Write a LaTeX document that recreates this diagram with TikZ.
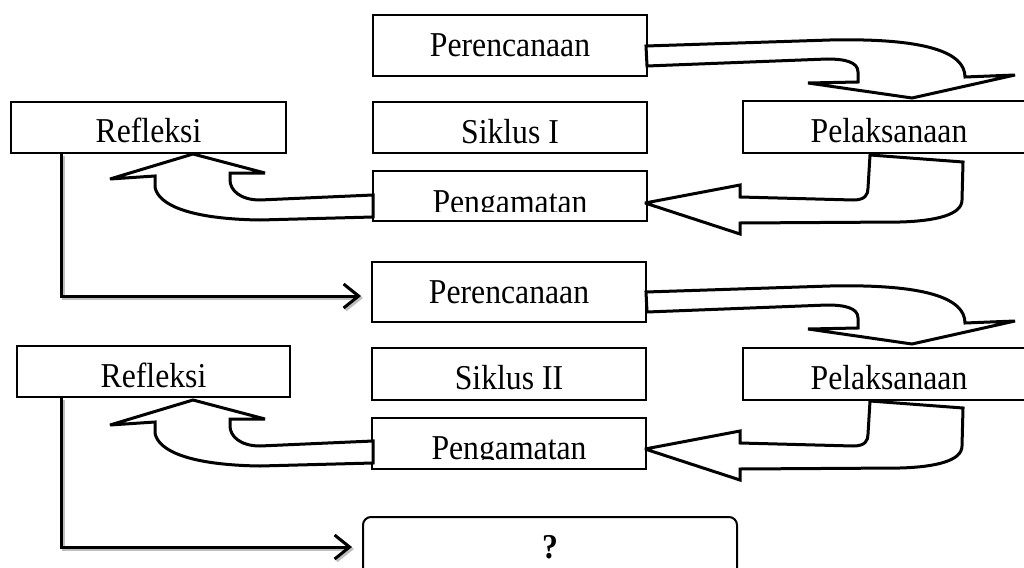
\documentclass[tikz,border=0pt]{standalone}
\usepackage{fontspec}
\usepackage{graphicx}
\setmainfont{Liberation Serif}
\usetikzlibrary{arrows.meta}
\newcommand{\tall}[1]{\scalebox{1}[1.1]{#1}}
\begin{document}
\begin{tikzpicture}[x=1pt,y=-1pt,
  box/.style={draw, line width=2pt, fill=white, rectangle, inner sep=0pt},
  qbox/.style={draw, line width=2pt, fill=white, rectangle, rounded corners=8pt, inner sep=0pt},
  lbl/.style={font=\fontsize{31.7}{36}\selectfont, inner sep=0pt, anchor=base},
  barrow/.style={draw, line width=3pt, fill=white, line join=miter, miter limit=4},
  tipc/.tip={Straight Barb[length=15pt,width=24pt]},
  conn/.style={line width=3pt, -tipc, shorten >=10pt,
    preaction={draw=gray!50, line width=3pt, -tipc, shorten >=10pt, transform canvas={shift={(2pt,-2pt)}}}}
]
\useasboundingbox (0,0) rectangle (1024,567);
\clip (0,0) rectangle (1024,567);
\fill[white] (0,0) rectangle (1024,567);

% ---------- Siklus I ----------
\node[box, minimum width=274pt, minimum height=61pt] (per1) at (510,45.5) {};
\node[box, minimum width=274pt, minimum height=51pt] (sik1) at (510,127.5) {};
\node[box, minimum width=274pt, minimum height=50pt] (pen1) at (510,196) {};
\node[box, minimum width=292pt, minimum height=52pt] (pel1) at (889,127) {};
\node[box, minimum width=275pt, minimum height=51pt] (ref1) at (148.5,127.5) {};

% ---------- Siklus II ----------
\node[box, minimum width=274pt, minimum height=60pt] (per2) at (509,292) {};
\node[box, minimum width=274pt, minimum height=52pt] (sik2) at (509,374) {};
\node[box, minimum width=274pt, minimum height=51pt] (pen2) at (509,443.5) {};
\node[box, minimum width=292pt, minimum height=52pt] (pel2) at (889,374) {};
\node[box, minimum width=273pt, minimum height=51pt] (ref2) at (153.5,371.5) {};

\node[qbox, minimum width=374pt, minimum height=60pt] (q) at (550,547) {};

% ---------- block arrows, cycle I ----------
\draw[barrow] (646,46) -- (830,40) .. controls (925,38) and (965,52) .. (965,77)
  -- (1015,75) -- (912,98) -- (808,83) -- (858,82) -- (858,72)
  .. controls (858,62) and (845,59) .. (827,59) -- (647,66) -- cycle;
\draw[barrow] (870,155) -- (963,162) -- (962,200) .. controls (962,215) and (935,221) .. (900,222)
  -- (740,223) -- (740,234) -- (645,203) -- (740,185) -- (740,197) -- (853,200)
  .. controls (865,200) and (868,195) .. (868,188) -- cycle;
\draw[barrow] (373,195) -- (260,200) .. controls (240,200) and (230,190) .. (230,180)
  -- (230,173) -- (265,173) -- (193,154) -- (110,179) -- (155,176) -- (155,187)
  .. controls (158,205) and (190,219) .. (260,220) -- (373,217) -- cycle;

% ---------- block arrows, cycle II ----------
\begin{scope}[shift={(0,246)}]
\draw[barrow] (646,46) -- (830,40) .. controls (925,38) and (965,52) .. (965,77)
  -- (1015,75) -- (912,98) -- (808,83) -- (858,82) -- (858,72)
  .. controls (858,62) and (845,59) .. (827,59) -- (647,66) -- cycle;
\draw[barrow] (870,155) -- (963,162) -- (962,200) .. controls (962,215) and (935,221) .. (900,222)
  -- (740,223) -- (740,234) -- (645,203) -- (740,185) -- (740,197) -- (853,200)
  .. controls (865,200) and (868,195) .. (868,188) -- cycle;
\draw[barrow] (373,195) -- (260,200) .. controls (240,200) and (230,190) .. (230,180)
  -- (230,173) -- (265,173) -- (193,154) -- (110,179) -- (155,176) -- (155,187)
  .. controls (158,205) and (190,219) .. (260,220) -- (373,217) -- cycle;
\end{scope}

% ---------- connectors ----------
\draw[conn] ([xshift=51pt]ref1.south west) |- ([yshift=-4pt]per2.west);
\draw[conn] ([xshift=45pt]ref2.south west) |- (q.west);

% ---------- labels ----------
\node[lbl] (tper1) at (510,57) {\tall{Perencanaan}};
\node[lbl] (tref1) at (148.5,142) {\tall{Refleksi}};
\begin{scope}
\clip (sik1.north west) rectangle ([yshift=11pt]sik1.south east);
\node[lbl] (tsik1) at (510,143) {\tall{Siklus I}};
\end{scope}
\begin{scope}
\clip (pen1.north west) rectangle ([yshift=11pt]pen1.south east);
\node[lbl] (tpen1) at (510,213) {\tall{Pengamatan}};
\end{scope}
\begin{scope}
\clip (pel1.north west) rectangle ([yshift=11pt]pel1.south east);
\node[lbl] (tpel1) at (889,142) {\tall{Pelaksanaan}};
\end{scope}

\node[lbl] (tper2) at (509,303) {\tall{Perencanaan}};
\node[lbl] (tref2) at (153.5,387) {\tall{Refleksi}};
\begin{scope}
\clip (sik2.north west) rectangle ([yshift=11pt]sik2.south east);
\node[lbl] (tsik2) at (509,389) {\tall{Siklus II}};
\end{scope}
\begin{scope}
\clip (pen2.north west) rectangle ([yshift=11pt]pen2.south east);
\node[lbl] (tpen2) at (509,459) {\tall{Pengamatan}};
\end{scope}
\begin{scope}
\clip (pel2.north west) rectangle ([yshift=11pt]pel2.south east);
\node[lbl] (tpel2) at (889,389) {\tall{Pelaksanaan}};
\end{scope}

\node[lbl] (tq) at (550,558) {\tall{\textbf{?}}};
\end{tikzpicture}
\end{document}
